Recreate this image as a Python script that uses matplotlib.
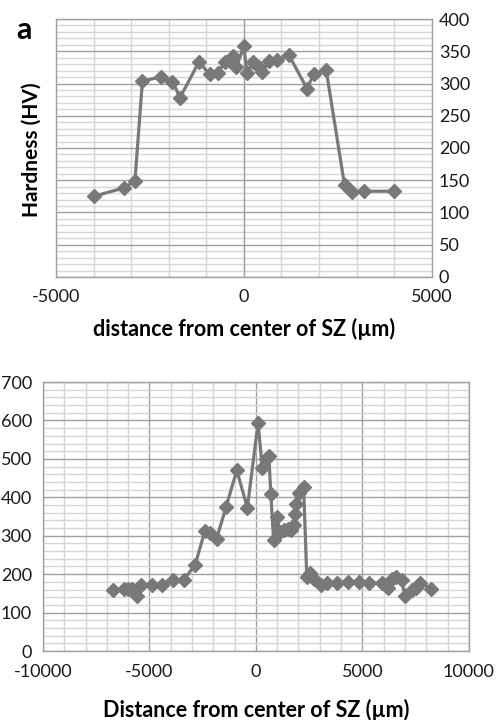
"""
Two hardness profiles across the stir zone (SZ): panel a (top) and
the lower panel, Excel-style gray line with diamond markers.
Output: out.png (501 x 720 px)
"""
import matplotlib.pyplot as plt
from matplotlib.ticker import MultipleLocator

plt.rcParams["font.family"] = ["Lato", "DejaVu Sans"]
plt.rcParams["axes.unicode_minus"] = False

# top panel (a)
TOP_X = [-4000, -3200, -2900, -2700, -2200, -1900, -1700, -1200, -900, -700,
         -500, -370, -300, -200, 0, 80, 250, 390, 490, 680, 870, 1200, 1680,
         1860, 2190, 2680, 2880, 3190, 3990]
TOP_Y = [125, 138, 149, 304, 310, 303, 278, 333, 314, 317,
         333, 335, 343, 325, 358, 316, 334, 326, 318, 335, 336, 344, 292,
         315, 321, 142, 131, 133, 133]

# bottom panel
BOT_X = [-6700, -6200, -6000, -5800, -5600, -5400, -4900, -4400, -3900, -3400,
         -2850, -2400, -2150, -1850, -1400, -900, -400, 100, 300, 490, 610,
         700, 830, 1000, 1110, 1310, 1500, 1630, 1770, 1815, 1895, 2020, 2240,
         2390, 2520, 2750, 3040, 3350, 3820, 4320, 4820, 5300, 5910, 6210,
         6370, 6590, 6840, 7010, 7320, 7500, 7720, 8220]
BOT_Y = [158, 162, 162, 162, 142, 171, 171, 173, 186, 184,
         225, 312, 308, 292, 375, 470, 373, 594, 476, 499, 507,
         409, 290, 350, 310, 314, 318, 316, 327, 357, 382, 411, 427,
         192, 204, 188, 173, 176, 176, 180, 180, 176, 177, 163,
         187, 193, 184, 142, 158, 165, 178, 162]

TOP_XTICKS = [-5000, 0, 5000]
TOP_YTICKS = [0, 50, 100, 150, 200, 250, 300, 350, 400]
BOT_XTICKS = [-10000, -5000, 0, 5000, 10000]
BOT_YTICKS = [0, 100, 200, 300, 400, 500, 600, 700]

LINE_C = "#787878"
MAJOR_C = "#a0a0a0"
MINOR_C = "#d6d6d6"
TICK_FS = 13
LABEL_FS = 15.5


def style(ax, xminor, yminor):
    ax.xaxis.set_minor_locator(MultipleLocator(xminor))
    ax.yaxis.set_minor_locator(MultipleLocator(yminor))
    ax.grid(which="minor", color=MINOR_C, lw=1.0)
    ax.grid(which="major", color=MAJOR_C, lw=1.0)
    ax.set_axisbelow(True)
    for s in ax.spines.values():
        s.set_color(MAJOR_C)
        s.set_linewidth(1.0)
    ax.tick_params(which="both", length=0, labelsize=TICK_FS,
                   labelcolor="#1a1a1a")
    ax.tick_params(axis="x", pad=9)


fig = plt.figure(figsize=(5.01, 7.2), dpi=100)

# ---- panel a ----
ax1 = fig.add_axes([0.1118, 0.6153, 0.750, 0.3583])
ax1.plot(TOP_X, TOP_Y, color=LINE_C, lw=2.3, marker="D", ms=7.5,
         mec=LINE_C, mfc=LINE_C, zorder=3)
ax1.set_xlim(-5000, 5000)
ax1.set_ylim(0, 400)
ax1.set_xticks(TOP_XTICKS)
ax1.set_yticks(TOP_YTICKS)
style(ax1, 1000, 10)
# vertical gridlines are the light ones except the axis at 0
ax1.xaxis.grid(which="major", color=MINOR_C)
ax1.axvline(0, color=MAJOR_C, lw=1.0, zorder=1)
ax1.yaxis.tick_right()
ax1.tick_params(axis="y", pad=5)
ax1.set_xlabel("distance from center of SZ (µm)", fontsize=LABEL_FS,
               fontweight="bold", labelpad=9)
fig.text(0.064, 0.792, "Hardness (HV)", rotation=90, ha="center",
         va="center", fontsize=15, fontweight="bold")
fig.text(0.032, 0.958, "a", ha="left", va="center", fontsize=22,
         fontweight="bold")

# ---- bottom panel ----
ax2 = fig.add_axes([0.0858, 0.0958, 0.850, 0.3736])
ax2.plot(BOT_X, BOT_Y, color=LINE_C, lw=2.3, marker="D", ms=7.5,
         mec=LINE_C, mfc=LINE_C, zorder=3)
ax2.set_xlim(-10000, 10000)
ax2.set_ylim(0, 700)
ax2.set_xticks(BOT_XTICKS)
ax2.set_yticks(BOT_YTICKS)
style(ax2, 1000, 20)
ax2.tick_params(axis="y", pad=8)
ax2.set_xlabel("Distance from center of SZ (µm)", fontsize=LABEL_FS,
               fontweight="bold", labelpad=14)

fig.savefig("out.png", dpi=100, facecolor="white")
plt.close(fig)
